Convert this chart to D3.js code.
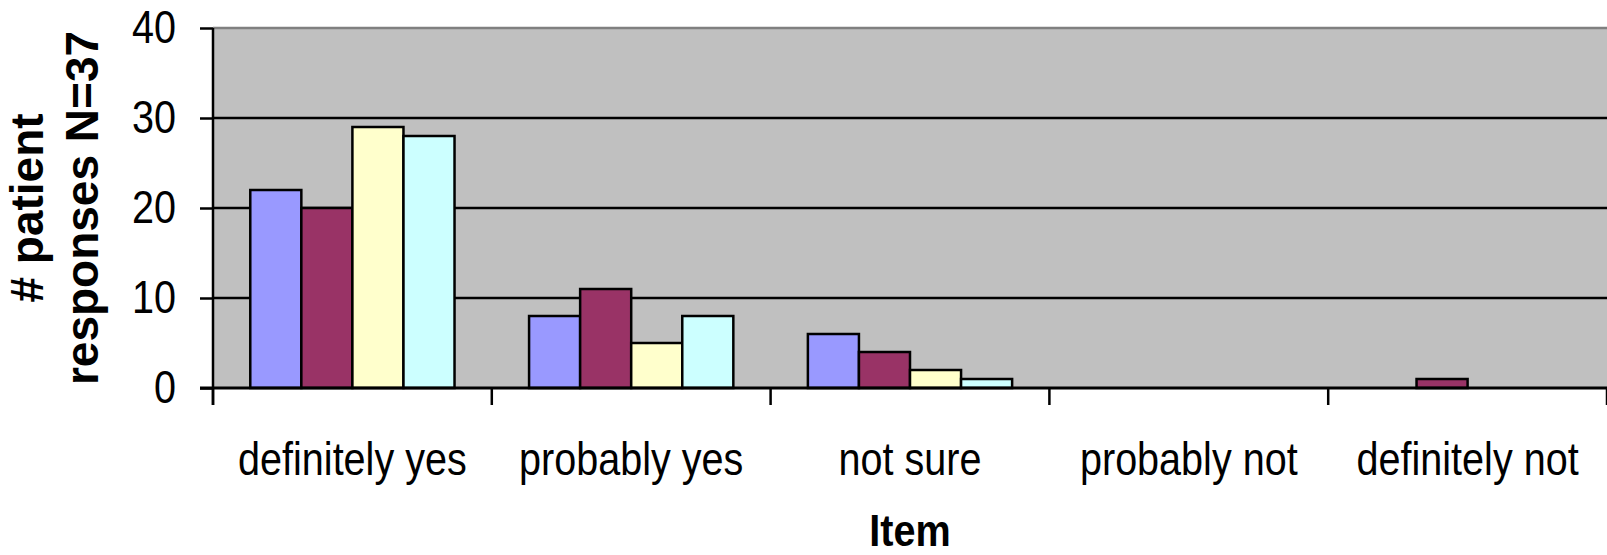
<!DOCTYPE html>
<html>
<head>
<meta charset="utf-8">
<script src="https://cdn.jsdelivr.net/npm/d3@7"></script>
<style>
  html, body { margin: 0; padding: 0; background: #ffffff; }
  svg { display: block; }
  text { font-family: "Liberation Sans", Arial, sans-serif; }
</style>
</head>
<body>
<svg id="chart" width="1607" height="555"></svg>
<script>
// Response categories along the x axis
const categories = ["definitely yes", "probably yes", "not sure", "probably not", "definitely not"];

// Four survey items, counts per response category
const seriesKeys = ["item1", "item2", "item3", "item4"];
const item1 = [22, 8, 6, 0, 0];
const item2 = [20, 11, 4, 0, 1];
const item3 = [29, 5, 2, 0, 0];
const item4 = [28, 8, 1, 0, 0];
const seriesValues = [item1, item2, item3, item4];
const seriesColors = ["#9999ff", "#993366", "#ffffcc", "#ccffff"];

// Y axis ticks
const yTicks = [0, 10, 20, 30, 40];

const svg = d3.select("#chart");
const plot = { left: 213, top: 28, right: 1607, bottom: 388 };
const NARROW = 0.86;   // horizontal squeeze for the condensed axis text

const x = d3.scaleBand().domain(categories).range([plot.left, plot.right]).padding(0);
const inner = d3.scaleBand().domain(seriesKeys).range([0, x.bandwidth()])
  .paddingInner(0).paddingOuter(0.73);
const y = d3.scaleLinear().domain([0, 40]).range([plot.bottom, plot.top]);

// Plot area background
svg.append("rect")
  .attr("x", plot.left).attr("y", plot.top)
  .attr("width", plot.right - plot.left).attr("height", plot.bottom - plot.top)
  .attr("fill", "#c0c0c0");

// Top border of the plot area
svg.append("line")
  .attr("x1", plot.left).attr("x2", plot.right)
  .attr("y1", y(40)).attr("y2", y(40))
  .attr("stroke", "#808080").attr("stroke-width", 2.5);

// Horizontal gridlines
svg.append("g").selectAll("line")
  .data(yTicks.filter(t => t > 0 && t < 40))
  .join("line")
  .attr("x1", plot.left).attr("x2", plot.right)
  .attr("y1", d => y(d)).attr("y2", d => y(d))
  .attr("stroke", "#000").attr("stroke-width", 2.5);

// Bars
const rows = [];
categories.forEach((c, i) => {
  seriesKeys.forEach((k, j) => {
    rows.push({ cat: c, key: k, value: seriesValues[j][i], color: seriesColors[j] });
  });
});

svg.append("g").selectAll("rect")
  .data(rows.filter(d => d.value > 0))
  .join("rect")
  .attr("x", d => x(d.cat) + inner(d.key))
  .attr("y", d => y(d.value))
  .attr("width", inner.bandwidth())
  .attr("height", d => y(0) - y(d.value))
  .attr("fill", d => d.color)
  .attr("stroke", "#000")
  .attr("stroke-width", 2.5);

// Y axis
const yTickSize = 13, yTickPad = 24;
const yAxis = svg.append("g")
  .attr("transform", `translate(${plot.left},0)`)
  .call(d3.axisLeft(y).tickValues(yTicks).tickSize(yTickSize).tickPadding(yTickPad));
yAxis.select(".domain").remove();
yAxis.selectAll(".tick line").attr("stroke", "#000").attr("stroke-width", 2.5);
yAxis.selectAll(".tick text")
  .attr("x", -(yTickSize + yTickPad) / NARROW)
  .attr("transform", `scale(${NARROW},1)`)
  .attr("font-size", 46)
  .attr("fill", "#000");

// Y axis line, running down to the first category tick
svg.append("line")
  .attr("x1", plot.left).attr("x2", plot.left)
  .attr("y1", plot.top).attr("y2", plot.bottom + 17)
  .attr("stroke", "#000").attr("stroke-width", 2.5);

// X axis line at zero
svg.append("line")
  .attr("x1", plot.left - yTickSize).attr("x2", plot.right)
  .attr("y1", y(0)).attr("y2", y(0))
  .attr("stroke", "#000").attr("stroke-width", 3);

// Category boundary ticks
const boundaries = categories.map(c => x(c)).concat([x.range()[1]]);
svg.append("g").selectAll("line")
  .data(boundaries)
  .join("line")
  .attr("x1", d => d).attr("x2", d => d)
  .attr("y1", y(0)).attr("y2", y(0) + 17)
  .attr("stroke", "#000").attr("stroke-width", 2.5);

// Category labels
svg.append("g").selectAll("text")
  .data(categories)
  .join("text")
  .attr("transform", d => `translate(${x(d) + x.bandwidth() / 2},475) scale(${NARROW},1)`)
  .attr("text-anchor", "middle")
  .attr("font-size", 46)
  .attr("fill", "#000")
  .text(d => d);

// X axis title
svg.append("text")
  .attr("transform", `translate(${(plot.left + plot.right) / 2},546) scale(0.9,1)`)
  .attr("text-anchor", "middle")
  .attr("font-size", 44)
  .attr("font-weight", "bold")
  .attr("fill", "#000")
  .text("Item");

// Y axis title, two lines
const yTitle = svg.append("text")
  .attr("transform", `translate(0,${(plot.top + plot.bottom) / 2}) rotate(-90)`)
  .attr("text-anchor", "middle")
  .attr("font-size", 46)
  .attr("font-weight", "bold")
  .attr("fill", "#000");
yTitle.append("tspan").attr("x", 0).attr("y", 43).text("# patient");
yTitle.append("tspan").attr("x", 0).attr("y", 98).text("responses N=37");
</script>
</body>
</html>
